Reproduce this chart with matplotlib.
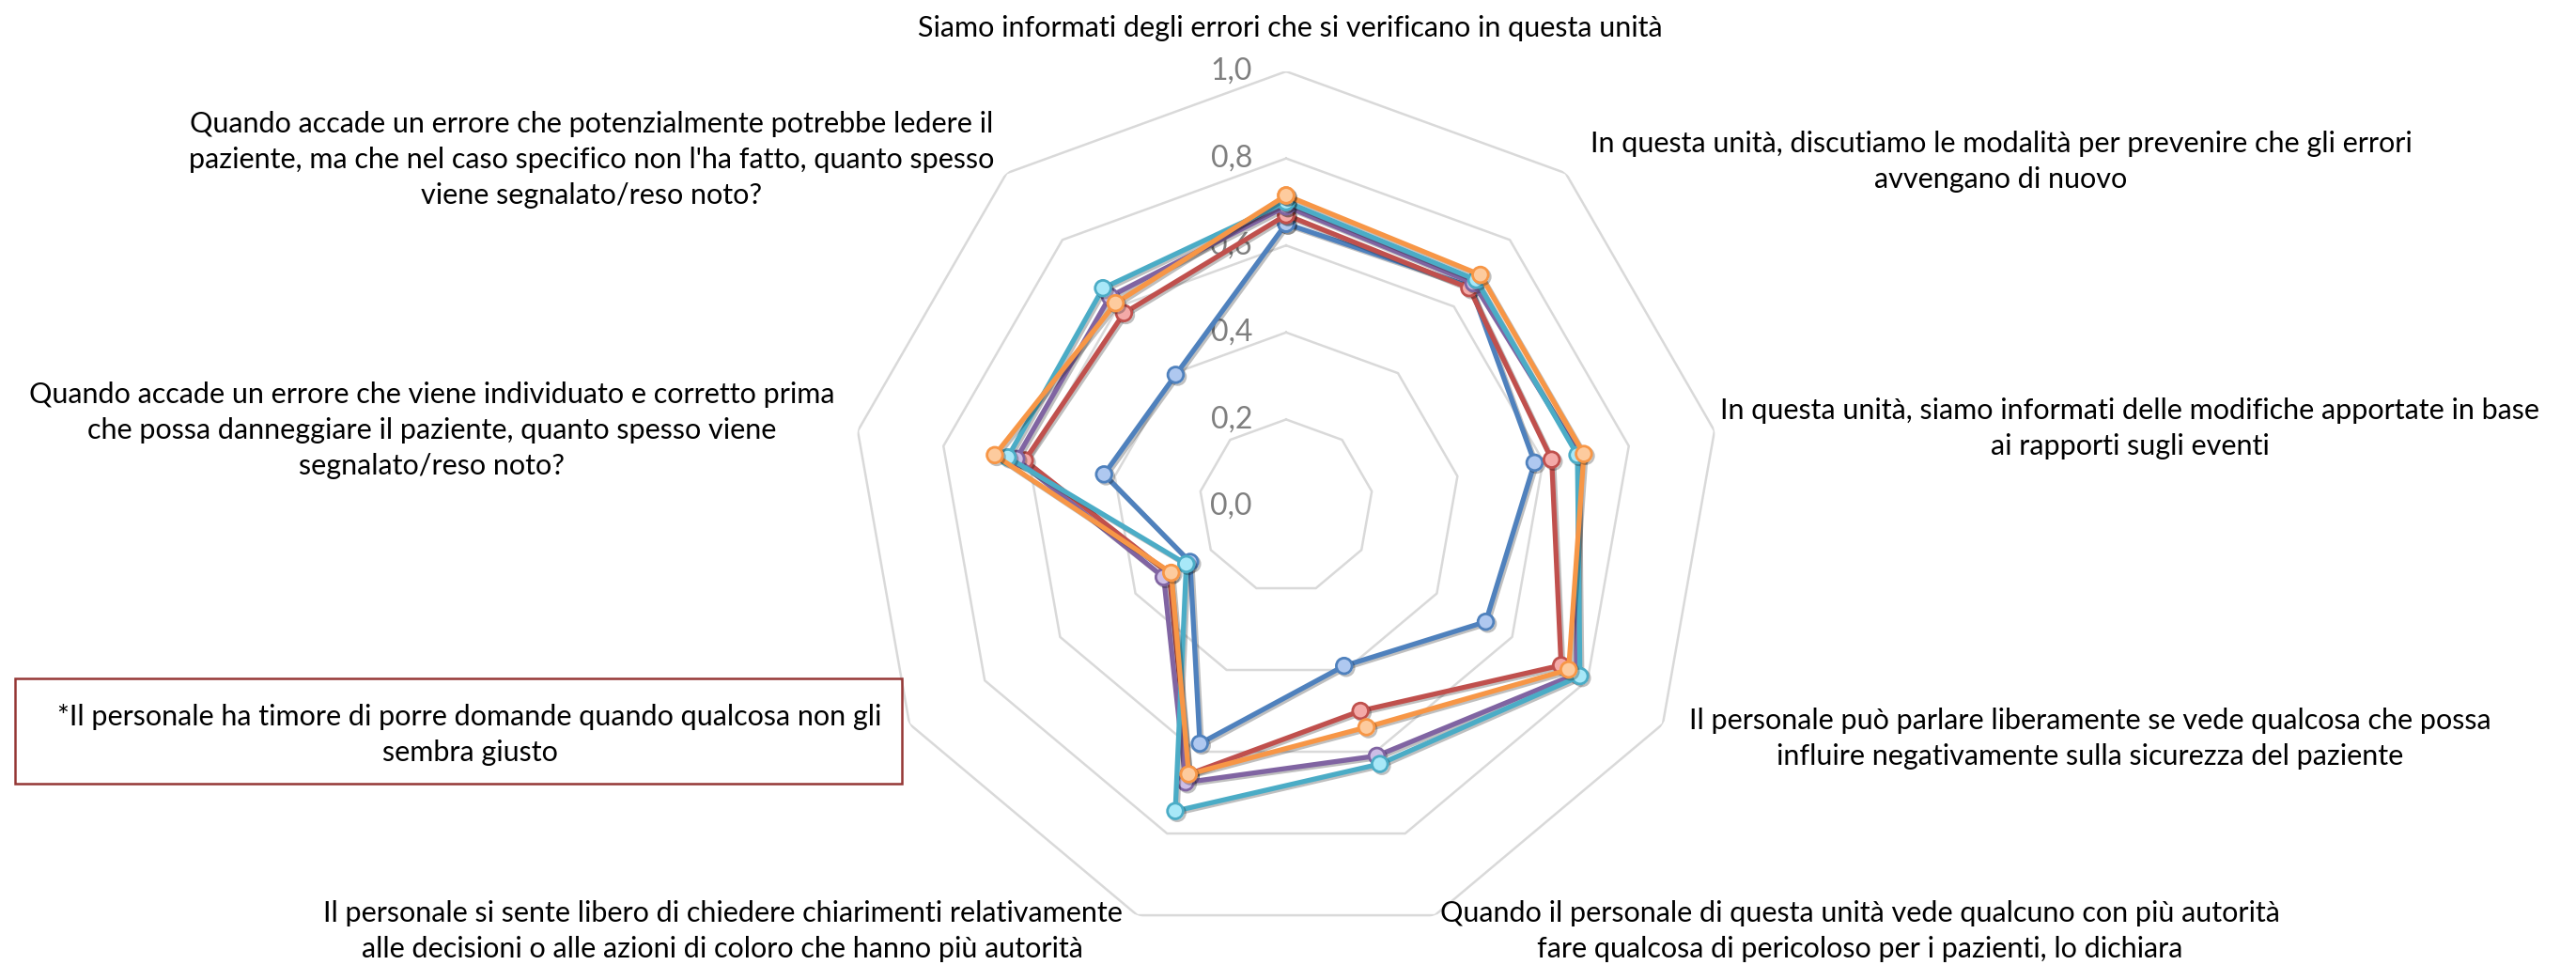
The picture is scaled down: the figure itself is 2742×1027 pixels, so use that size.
import numpy as np
import matplotlib
matplotlib.use('Agg')
import matplotlib.pyplot as plt
import matplotlib.patheffects as pe
from matplotlib.patches import Rectangle

plt.rcParams['font.family'] = ['Lato', 'DejaVu Sans']

# assi del radar, in senso orario partendo dall'alto
categorie = [
    "Siamo informati degli errori che si verificano in questa unità",
    "In questa unità, discutiamo le modalità per prevenire che gli errori\navvengano di nuovo",
    "In questa unità, siamo informati delle modifiche apportate in base\nai rapporti sugli eventi",
    "Il personale può parlare liberamente se vede qualcosa che possa\ninfluire negativamente sulla sicurezza del paziente",
    "Quando il personale di questa unità vede qualcuno con più autorità\nfare qualcosa di pericoloso per i pazienti, lo dichiara",
    "Il personale si sente libero di chiedere chiarimenti relativamente\nalle decisioni o alle azioni di coloro che hanno più autorità",
    "*Il personale ha timore di porre domande quando qualcosa non gli\nsembra giusto",
    "Quando accade un errore che viene individuato e corretto prima\nche possa danneggiare il paziente, quanto spesso viene\nsegnalato/reso noto?",
    "Quando accade un errore che potenzialmente potrebbe ledere il\npaziente, ma che nel caso specifico non l'ha fatto, quanto spesso\nviene segnalato/reso noto?",
]

valori_blu = [0.65, 0.66, 0.58, 0.53, 0.39, 0.58, 0.255, 0.425, 0.395]
valori_rosso = [0.67, 0.655, 0.62, 0.73, 0.50, 0.655, 0.31, 0.61, 0.58]
valori_viola = [0.69, 0.67, 0.685, 0.77, 0.61, 0.675, 0.325, 0.63, 0.63]
valori_azzurro = [0.70, 0.68, 0.68, 0.78, 0.63, 0.745, 0.265, 0.65, 0.655]
valori_arancio = [0.715, 0.695, 0.695, 0.75, 0.54, 0.655, 0.305, 0.68, 0.61]

ticks = [0.0, 0.2, 0.4, 0.6, 0.8, 1.0]
tick_labels = ['0,0', '0,2', '0,4', '0,6', '0,8', '1,0']

serie = [
    (valori_blu, '#4F81BD', '#AFC8F0'),
    (valori_rosso, '#C0504D', '#F4AAA8'),
    (valori_viola, '#8064A2', '#CDBDE6'),
    (valori_azzurro, '#4BACC6', '#A8E8F8'),
    (valori_arancio, '#F79646', '#FDCB9E'),
]

W, H = 2742, 1027
fig = plt.figure(figsize=(W / 100, H / 100), dpi=100)
cx, cy, R = 1369, 539, 463
ax = fig.add_axes([(cx - R) / W, (H - cy - R) / H, 2 * R / W, 2 * R / H], polar=True)
ax.set_theta_zero_location('N')
ax.set_theta_direction(-1)
ax.set_ylim(0, 1)
ax.grid(False)
ax.set_xticks([])
ax.set_yticks([])
ax.spines['polar'].set_visible(False)
ax.patch.set_alpha(0)

n = len(categorie)
ang = np.linspace(0, 2 * np.pi, n, endpoint=False)
ang_c = np.append(ang, ang[0])

# anelli a nonagono
for t in ticks[1:]:
    ax.plot(ang_c, [t] * (n + 1), color='#D9D9D9', lw=1.8, zorder=1)

for t, lab in zip(ticks, tick_labels):
    ax.annotate(lab, xy=(0, t), xytext=(-26, 0), textcoords='offset points',
                ha='right', va='center', fontsize=23, color='#7F7F7F', zorder=2)

ombra = [pe.SimpleLineShadow(offset=(1.5, -1.5), shadow_color='black', alpha=0.25), pe.Normal()]
for vals, col, face in serie:
    v = list(vals) + [vals[0]]
    ax.plot(ang_c, v, color=col, lw=3.8, marker='o', ms=12, mfc=face, mec=col,
            mew=2, zorder=5, path_effects=ombra, clip_on=False)

# etichette delle categorie (posizione in pixel del centro del blocco)
pos = [(1373, 30), (2130, 172), (2267, 456), (2225, 786), (1980, 991),
       (769, 991), (500, 782), (460, 458), (630, 170)]
for lab, (x, y) in zip(categorie, pos):
    fig.text(x / W, 1 - y / H, lab, ha='center', va='center', fontsize=22,
             color='black', linespacing=1.45, multialignment='center')

fig.add_artist(Rectangle((16 / W, 1 - 834 / H), (960 - 16) / W, (834 - 722) / H,
                         transform=fig.transFigure, fill=False,
                         edgecolor='#953735', lw=1.8))

fig.savefig('out.png', dpi=100, facecolor='white')
